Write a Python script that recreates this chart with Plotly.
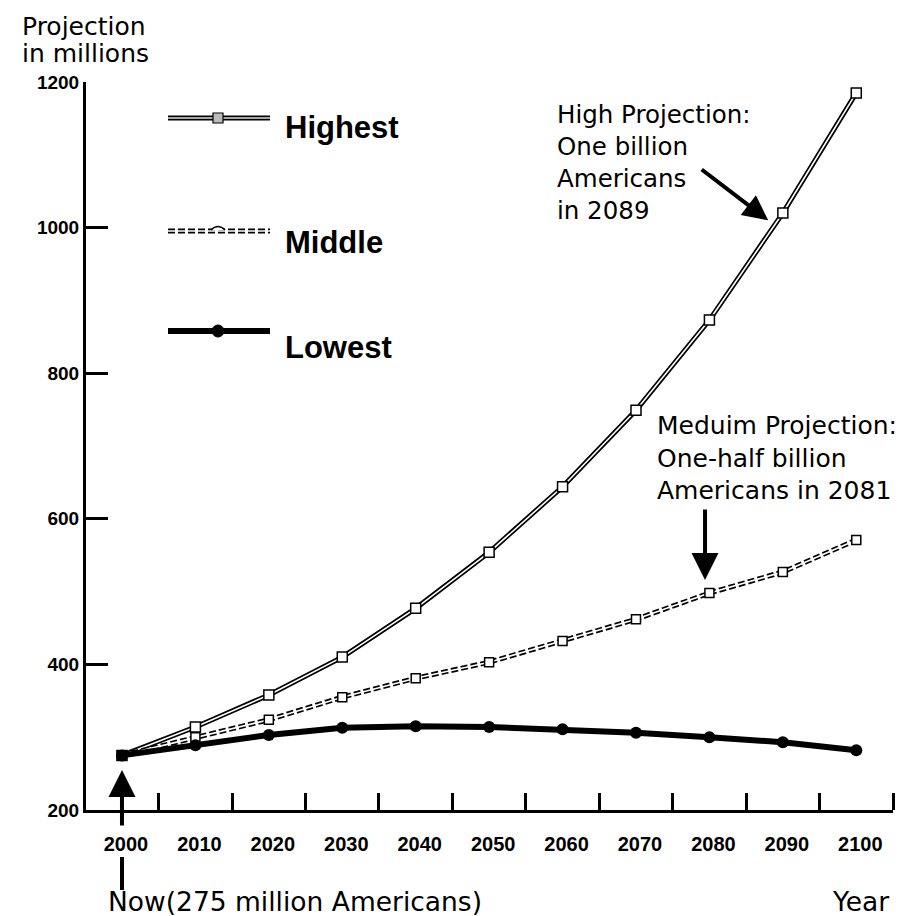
import plotly.graph_objects as go

# ---- data ----
years = [2000, 2010, 2020, 2030, 2040, 2050, 2060, 2070, 2080, 2090, 2100]
highest = [275, 314, 358, 410, 477, 554, 644, 749, 873, 1020, 1185]
middle = [275, 300, 324, 355, 381, 403, 432, 462, 498, 527, 571]
lowest = [275, 289, 303, 313, 315, 314, 311, 306, 300, 293, 282]
y_ticks = [200, 400, 600, 800, 1000, 1200]
x_minor_ticks = [2005, 2015, 2025, 2035, 2045, 2055, 2065, 2075, 2085, 2095, 2105]

# ---- layout geometry (window pixels; page body has an 8px margin) ----
WIN_W, WIN_H = 905, 916
OFF = 8
L, R, T, B = 86, 893, 82, 810
def px(x):
    return (x - L) / (R - L)
def py(y):
    return (B - y) / (B - T)

TXT = "DejaVu Sans"
ARIAL = "Liberation Sans"

fig = go.Figure()

# Highest: double line (black outer + white inner)
fig.add_trace(go.Scatter(x=years, y=highest, mode="lines",
                         line=dict(color="black", width=5), showlegend=False, hoverinfo="skip"))
fig.add_trace(go.Scatter(x=years, y=highest, mode="lines+markers",
                         line=dict(color="white", width=1.6),
                         marker=dict(symbol="square", size=10, color="white",
                                     line=dict(color="black", width=1.5)),
                         showlegend=False))
# Middle: dashed double line
fig.add_trace(go.Scatter(x=years, y=middle, mode="lines",
                         line=dict(color="black", width=5, dash="7px,3px"), showlegend=False, hoverinfo="skip"))
fig.add_trace(go.Scatter(x=years, y=middle, mode="lines+markers",
                         line=dict(color="white", width=1.6),
                         marker=dict(symbol="square", size=9, color="white",
                                     line=dict(color="black", width=1.5)),
                         showlegend=False))
# Lowest: thick black line
fig.add_trace(go.Scatter(x=years, y=lowest, mode="lines+markers",
                         line=dict(color="black", width=6),
                         marker=dict(symbol="circle", size=12, color="black"),
                         showlegend=False))

shapes = []
annotations = []

# ---- manual legend ----
leg_rows = [("Highest", 118, 127), ("Middle", 231, 242), ("Lowest", 331, 347)]
for name, ly, ty in leg_rows:
    if name == "Highest":
        shapes.append(dict(type="line", xref="paper", yref="paper", x0=px(168), x1=px(270),
                           y0=py(ly), y1=py(ly), line=dict(color="black", width=5)))
        shapes.append(dict(type="line", xref="paper", yref="paper", x0=px(168), x1=px(270),
                           y0=py(ly), y1=py(ly), line=dict(color="#dddddd", width=1.6)))
        shapes.append(dict(type="rect", xref="paper", yref="paper", x0=px(213), x1=px(223),
                           y0=py(ly + 5), y1=py(ly - 5), fillcolor="#bbbbbb",
                           line=dict(color="black", width=1.2)))
    elif name == "Middle":
        shapes.append(dict(type="line", xref="paper", yref="paper", x0=px(168), x1=px(270),
                           y0=py(ly), y1=py(ly), line=dict(color="black", width=5, dash="7px,3px")))
        shapes.append(dict(type="line", xref="paper", yref="paper", x0=px(168), x1=px(270),
                           y0=py(ly), y1=py(ly), line=dict(color="white", width=1.6)))
        shapes.append(dict(type="path", xref="paper", yref="paper",
                           path="M {0},{1} Q {2},{3} {4},{1}".format(px(211), py(ly - 1), px(218), py(ly - 8), px(225)),
                           line=dict(color="black", width=1.5), fillcolor="white"))
    else:
        shapes.append(dict(type="line", xref="paper", yref="paper", x0=px(168), x1=px(270),
                           y0=py(ly), y1=py(ly), line=dict(color="black", width=6)))
        shapes.append(dict(type="circle", xref="paper", yref="paper", x0=px(212), x1=px(224),
                           y0=py(ly + 6), y1=py(ly - 6), fillcolor="black", line=dict(color="black", width=1)))
    annotations.append(dict(text=name, xref="paper", yref="paper", x=px(283), y=py(ty),
                            xanchor="left", yanchor="middle", showarrow=False,
                            font=dict(family=ARIAL, size=31, color="black", weight="bold")))

# ---- y axis title ----
annotations.append(dict(text="Projection", xref="paper", yref="paper",
                        x=px(20), y=py(26), xanchor="left", yanchor="middle",
                        showarrow=False, font=dict(family=TXT, size=25, color="black")))
annotations.append(dict(text="in millions", xref="paper", yref="paper",
                        x=px(20), y=py(54), xanchor="left", yanchor="middle",
                        showarrow=False, font=dict(family=TXT, size=25, color="black")))

# ---- callouts ----
annotations.append(dict(text="High Projection:<br>One billion<br>Americans<br>in 2089",
                        xref="paper", yref="paper", x=px(555), y=py(162), xanchor="left",
                        yanchor="middle", align="left", showarrow=False,
                        font=dict(family=TXT, size=24.5, color="black")))
annotations.append(dict(text="", x=2088.0, y=1010, xref="x", yref="y", ax=-68, ay=-52,
                        showarrow=True, arrowhead=2, arrowsize=1.25, arrowwidth=4, arrowcolor="black"))

annotations.append(dict(text="Meduim Projection:<br>One-half billion<br>Americans in 2081",
                        xref="paper", yref="paper", x=px(655), y=py(458), xanchor="left",
                        yanchor="middle", align="left", showarrow=False,
                        font=dict(family=TXT, size=25, color="black")))
annotations.append(dict(text="", x=2079.4, y=516, xref="x", yref="y", ax=0, ay=-72,
                        showarrow=True, arrowhead=2, arrowsize=1.35, arrowwidth=4, arrowcolor="black"))

# Now arrow
annotations.append(dict(text="", x=2000, y=255, xref="x", yref="y", ax=0, ay=57,
                        showarrow=True, arrowhead=2, arrowsize=1.35, arrowwidth=4, arrowcolor="black"))
shapes.append(dict(type="line", xref="x", yref="paper", x0=2000, x1=2000,
                   y0=py(857), y1=py(890), line=dict(color="black", width=4)))

annotations.append(dict(text="Now(275 million Americans)", xref="paper", yref="paper",
                        x=px(106), y=py(901), xanchor="left", yanchor="middle", showarrow=False,
                        font=dict(family=TXT, size=26.5, color="black")))
annotations.append(dict(text="Year", xref="paper", yref="paper",
                        x=px(830), y=py(901), xanchor="left", yanchor="middle", showarrow=False,
                        font=dict(family=TXT, size=26.5, color="black")))

fig.update_layout(
    width=WIN_W - OFF, height=WIN_H - OFF,
    margin=dict(l=L - OFF, r=WIN_W - R, t=T - OFF, b=WIN_H - B, autoexpand=False),
    paper_bgcolor="white", plot_bgcolor="white",
    shapes=shapes, annotations=annotations,
    showlegend=False,
    xaxis=dict(range=[1995.1, 2105], tickvals=years, ticktext=[str(y) for y in years],
               ticks="", showgrid=False, zeroline=False, showline=True, linecolor="black",
               linewidth=3, ticklabelstandoff=14, ticklabelshift=4,
               tickfont=dict(family=ARIAL, size=20, color="black", weight="bold"),
               minor=dict(tickvals=x_minor_ticks, ticks="inside", ticklen=17, tickwidth=3,
                          tickcolor="black", showgrid=False)),
    yaxis=dict(range=[200, 1200], tickvals=y_ticks, ticks="inside", ticklen=22, tickwidth=3,
               tickcolor="black", showgrid=False, zeroline=False, showline=True,
               linecolor="black", linewidth=3, ticklabelstandoff=0,
               tickfont=dict(family=ARIAL, size=19, color="black", weight="bold")),
)

fig.write_html("out.html")
